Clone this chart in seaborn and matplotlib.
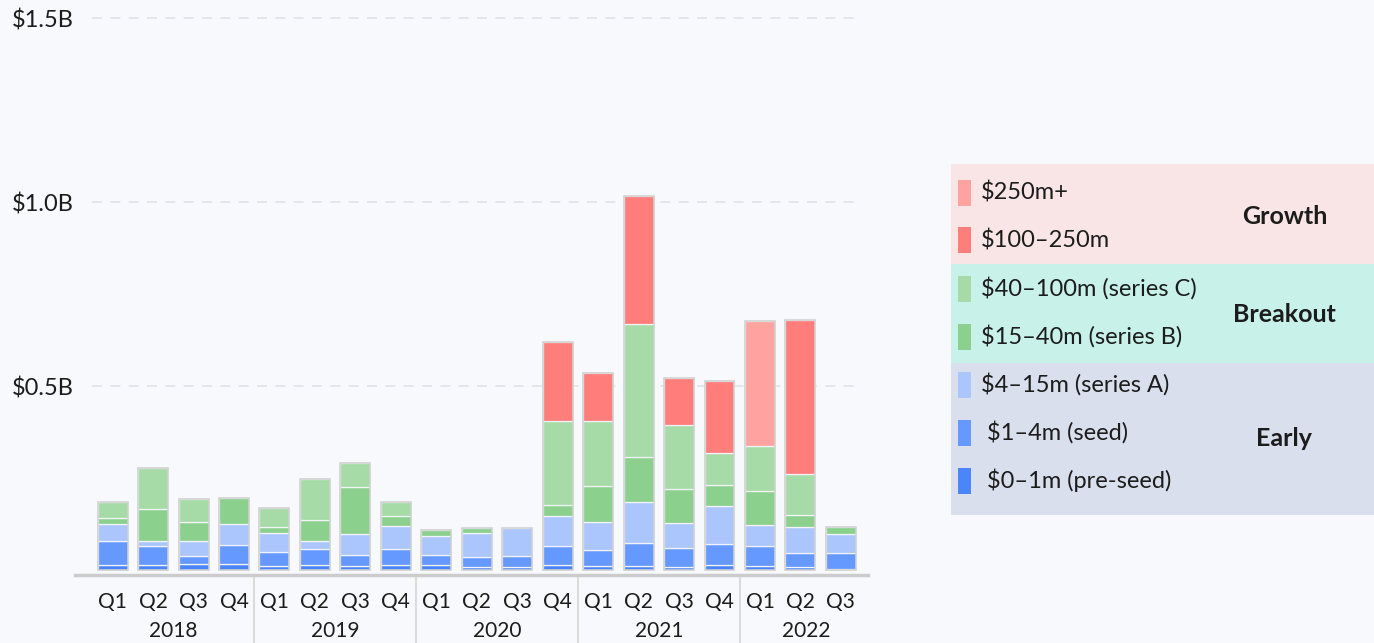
import numpy as np
import pandas as pd
import matplotlib
matplotlib.use("Agg")
import matplotlib.pyplot as plt
import seaborn as sns
from matplotlib.patches import Rectangle
from matplotlib.lines import Line2D
from matplotlib.transforms import blended_transform_factory

# ---------------- data ($ millions) ----------------
years = ["2018", "2019", "2020", "2021", "2022"]
quarters = ["Q1", "Q2", "Q3", "Q4"] * 4 + ["Q1", "Q2", "Q3"]
periods = [f"{y} {q}" for y in years[:4] for q in ["Q1", "Q2", "Q3", "Q4"]] + \
          ["2022 Q1", "2022 Q2", "2022 Q3"]

pre_seed = [14, 14, 16, 15, 11, 14, 11, 13, 13, 8, 9, 14, 12, 12, 9, 14, 11, 9, 4]
seed = [65, 52, 23, 54, 39, 43, 30, 45, 27, 27, 29, 50, 41, 62, 52, 57, 54, 36, 42]
series_a = [46, 13, 40, 55, 51, 21, 56, 62, 52, 65, 77, 83, 77, 111, 67, 102, 57, 71, 52]
series_b = [15, 86, 52, 71, 16, 59, 129, 27, 18, 15, 0, 30, 99, 122, 92, 57, 93, 33, 20]
series_c = [45, 111, 61, 0, 51, 109, 64, 39, 0, 0, 0, 229, 175, 362, 174, 87, 123, 111, 0]
growth_100_250 = [0] * 11 + [213, 130, 346, 129, 197, 0, 418, 0]
growth_250_plus = [0] * 16 + [339, 0, 0]

series_values = [pre_seed, seed, series_a, series_b, series_c, growth_100_250, growth_250_plus]
series_labels = ["$0–1m (pre-seed)", "$1–4m (seed)", "$4–15m (series A)",
                 "$15–40m (series B)", "$40–100m (series C)", "$100–250m", "$250m+"]
series_colors = ["#4a86fa", "#6699ff", "#aac6fd", "#8bd18d", "#a6dba7", "#ff7d7b", "#ffa3a1"]

groups = ["Growth", "Breakout", "Early"]
group_colors = ["#f9e4e6", "#c7f1e9", "#d9dfed"]

y_ticks = [0.5, 1.0, 1.5]
y_ticklabels = ["\\$0.5B", "\\$1.0B", "\\$1.5B"]

# ---------------- style ----------------
BG = "#f7f9fd"
sns.set_style("white")
plt.rcParams["font.family"] = ["Lato", "DejaVu Sans"]
plt.rcParams["text.color"] = "#1c1c1c"
plt.rcParams["xtick.color"] = "#1c1c1c"
plt.rcParams["ytick.color"] = "#1c1c1c"

W, H = 1374, 643
fig = plt.figure(figsize=(W / 100, H / 100), dpi=100, facecolor=BG)

ax_l, ax_r, ax_t, ax_b = 75, 868, 10, 575
ax = fig.add_axes([ax_l / W, (H - ax_b) / H, (ax_r - ax_l) / W, (ax_b - ax_t) / H])
ax.set_facecolor(BG)

# stacked bars
bottom = np.zeros(len(periods))
for vals, col in zip(series_values, series_colors):
    v = np.array(vals, dtype=float) / 1000.0
    sns.barplot(x=periods, y=v, bottom=bottom, order=periods, color=col,
                saturation=1, width=0.74, edgecolor="#f2f4f8", linewidth=0.9,
                errorbar=None, ax=ax, zorder=3)
    bottom = bottom + v

for p in ax.patches:
    if abs(p.get_height()) < 1e-9:
        p.set_linewidth(0)

# outline of each full bar
sns.barplot(x=periods, y=bottom, order=periods, fill=False, color="#cfcfcf",
            saturation=1, width=0.74, linewidth=1.1, errorbar=None, ax=ax, zorder=4)

# gridlines
ax.hlines(y_ticks, -0.5, 18.5, colors="#dfe2e8", linestyles=(0, (6, 5)),
          linewidth=1.2, zorder=1)

ax.set_xlim(-0.93, 18.67)
ax.set_ylim(-(ax_b - 570) / 368.0, 1.5 + (18 - ax_t) / 368.0)

for s in ["top", "right", "left"]:
    ax.spines[s].set_visible(False)
ax.spines["bottom"].set_color("#cccccc")
ax.spines["bottom"].set_linewidth(2.5)

ax.set_yticks(y_ticks)
ax.set_yticklabels(y_ticklabels, fontsize=17)
ax.tick_params(axis="y", length=0, pad=1)
ax.set_xticks(range(len(periods)))
ax.set_xticklabels(quarters, fontsize=15)
ax.tick_params(axis="x", length=0, pad=12)
ax.set_xlabel("")
ax.set_ylabel("")

trans = blended_transform_factory(ax.transData, ax.transAxes)
year_centers = [1.5, 5.5, 9.5, 13.5, 17.15]
for yc, yr in zip(year_centers, years):
    ax.text(yc, (ax_b - 631) / (ax_b - ax_t), yr, transform=trans,
            ha="center", va="center", fontsize=15)
for xs in [3.5, 7.5, 11.5, 15.5]:
    ax.add_line(Line2D([xs, xs], [(ax_b - 578) / (ax_b - ax_t), (ax_b - 645) / (ax_b - ax_t)],
                       transform=trans, color="#dcdcdc", linewidth=1.5, clip_on=False))

# ---------------- legend panel ----------------
lx0, lx1, ly0, ly1 = 951, 1374, 164, 515
lax = fig.add_axes([lx0 / W, (H - ly1) / H, (lx1 - lx0) / W, (ly1 - ly0) / H])
lax.set_xlim(lx0, lx1)
lax.set_ylim(ly1, ly0)
lax.axis("off")

bands = [(164, 264), (264, 363), (363, 515)]
for (b0, b1), gc in zip(bands, group_colors):
    lax.add_patch(Rectangle((lx0, b0), lx1 - lx0, b1 - b0, facecolor=gc, edgecolor="none"))

entry_y = [192.5, 240, 288.5, 336.5, 384.5, 432.5, 480.5]
legend_order = list(range(len(series_labels)))[::-1]
for ey, idx in zip(entry_y, legend_order):
    lax.add_patch(Rectangle((958, ey - 13), 13, 26, facecolor=series_colors[idx], edgecolor="none"))
    lab = series_labels[idx]
    tx = 987 if idx in (0, 1) else 981
    lax.text(tx, ey, lab.replace("$", "\\$"), ha="left", va="center", fontsize=17)

group_y = [216.5, 314, 438]
for gy, g in zip(group_y, groups):
    lax.text(1284.5, gy, g, ha="center", va="center", fontsize=18, fontweight="bold")

fig.savefig("out.png", dpi=100, facecolor=BG)
